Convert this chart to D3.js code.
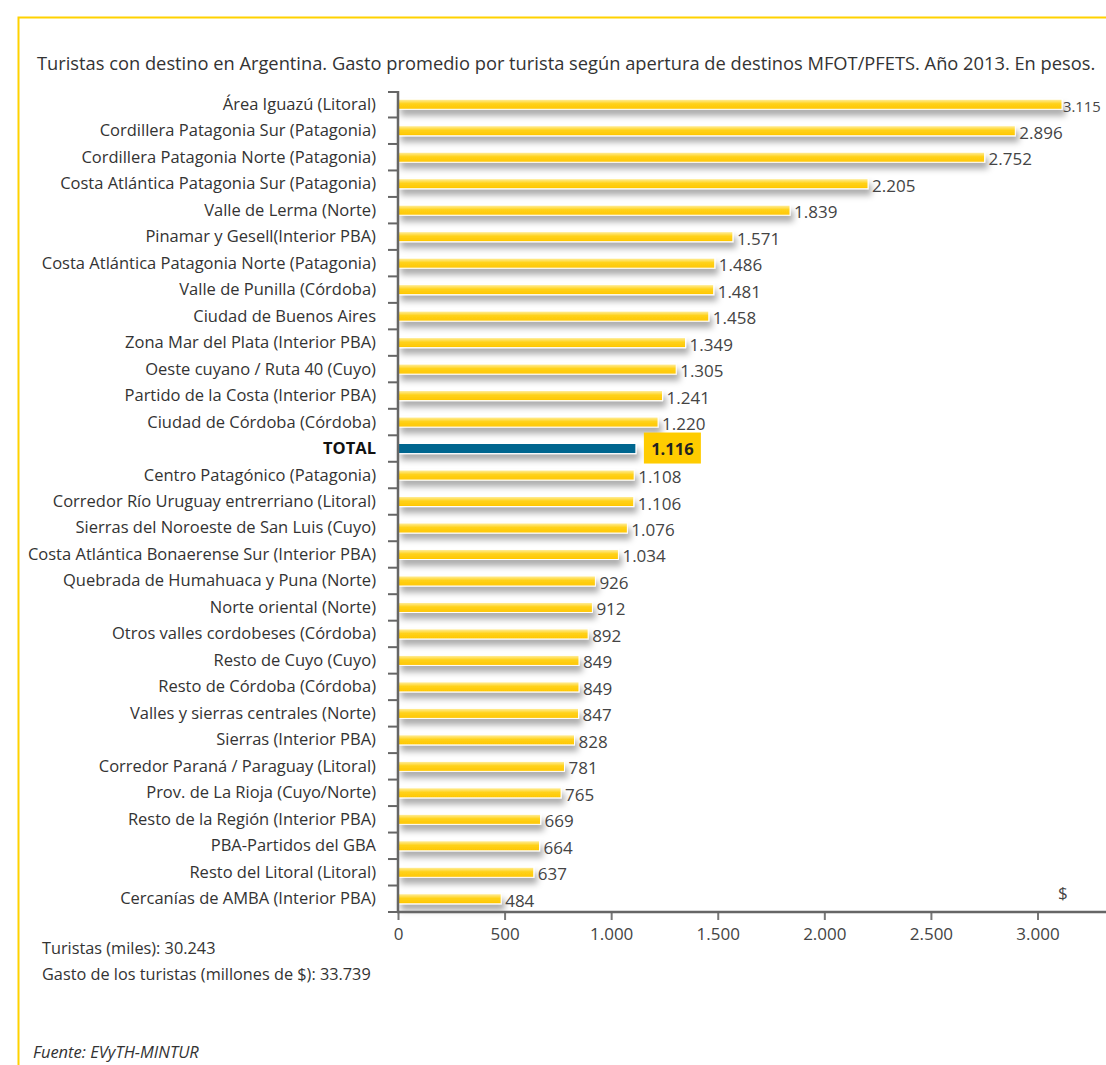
<!DOCTYPE html>
<html><head><meta charset="utf-8">
<script src="https://cdn.jsdelivr.net/npm/d3@7"></script>
<style>
body{margin:0;background:#fff;}
svg{display:block;font-family:"Open Sans",sans-serif;}
</style></head>
<body>
<script>
const categories = ["Área Iguazú (Litoral)","Cordillera Patagonia Sur (Patagonia)","Cordillera Patagonia Norte (Patagonia)","Costa Atlántica Patagonia Sur (Patagonia)","Valle de Lerma (Norte)","Pinamar y Gesell(Interior PBA)","Costa Atlántica Patagonia Norte (Patagonia)","Valle de Punilla (Córdoba)","Ciudad de Buenos Aires","Zona Mar del Plata (Interior PBA)","Oeste cuyano / Ruta 40 (Cuyo)","Partido de la Costa (Interior PBA)","Ciudad de Córdoba (Córdoba)","TOTAL","Centro Patagónico (Patagonia)","Corredor Río Uruguay entrerriano (Litoral)","Sierras del Noroeste de San Luis (Cuyo)","Costa Atlántica Bonaerense Sur (Interior PBA)","Quebrada de Humahuaca y Puna (Norte)","Norte oriental (Norte)","Otros valles cordobeses (Córdoba)","Resto de Cuyo (Cuyo)","Resto de Córdoba (Córdoba)","Valles y sierras centrales (Norte)","Sierras (Interior PBA)","Corredor Paraná / Paraguay (Litoral)","Prov. de La Rioja (Cuyo/Norte)","Resto de la Región (Interior PBA)","PBA-Partidos del GBA","Resto del Litoral (Litoral)","Cercanías de AMBA (Interior PBA)"];
const values = [3115,2896,2752,2205,1839,1571,1486,1481,1458,1349,1305,1241,1220,1116,1108,1106,1076,1034,926,912,892,849,849,847,828,781,765,669,664,637,484];
const tickValues = [0,500,1000,1500,2000,2500,3000];
const tickLabels = ["0","500","1.000","1.500","2.000","2.500","3.000"];
const totalCategory = "TOTAL";
const titleText = "Turistas con destino en Argentina. Gasto promedio por turista según apertura de destinos MFOT/PFETS. Año 2013. En pesos.";
const noteLines = ["Turistas (miles): 30.243","Gasto de los turistas (millones de $): 33.739"];
const sourceText = "Fuente: EVyTH-MINTUR";

const W=1106,H=1065;
const fmt = v => d3.format(",")(v).replace(/,/g,".");
const svg = d3.select("body").append("svg").attr("width",W).attr("height",H);
const defs = svg.append("defs");
const g1 = defs.append("linearGradient").attr("id","yg").attr("x1",0).attr("y1",0).attr("x2",0).attr("y2",1);
g1.append("stop").attr("offset","0%").attr("stop-color","#FFF0A8");
g1.append("stop").attr("offset","45%").attr("stop-color","#FFD21A");
g1.append("stop").attr("offset","100%").attr("stop-color","#FFC600");
const f = defs.append("filter").attr("id","sh").attr("x","-5%").attr("y","-100%").attr("width","115%").attr("height","450%");
f.append("feDropShadow").attr("dx",3).attr("dy",6).attr("stdDeviation",3.2).attr("flood-color","#000").attr("flood-opacity",0.33);

// frame
svg.append("path").attr("d","M18.5,1065 V17.5 H1106").attr("fill","none").attr("stroke","#FFD200").attr("stroke-width",2);

svg.append("text").attr("x",37).attr("y",70).attr("font-size",18.3).attr("fill","#333").text(titleText);

const x = d3.scaleLinear().domain([0,3115]).range([398,1062]);
const y = d3.scaleBand().domain(categories).range([91,912]).paddingInner(0.62).paddingOuter(0.31);

const bars = svg.append("g");
categories.forEach((c,i)=>{
  const isT = c===totalCategory;
  bars.append("rect").attr("x",x(0)).attr("y",y(c)).attr("width",x(values[i])-x(0)).attr("height",y.bandwidth())
    .attr("fill",isT?"#00668F":"url(#yg)").attr("stroke","#fff").attr("stroke-width",1).attr("filter","url(#sh)");
});

// value labels
categories.forEach((c,i)=>{
  const isT = c===totalCategory;
  const cy = y(c)+y.bandwidth()/2;
  if(isT){
    svg.append("rect").attr("x",x(values[i])+8).attr("y",cy-16).attr("width",57).attr("height",31).attr("fill","#FFCC00");
    svg.append("text").attr("x",x(values[i])+36.5).attr("y",cy+6).attr("text-anchor","middle").attr("font-size",16.5).attr("font-weight","bold").attr("fill","#222").text(fmt(values[i]));
  } else {
    const t = svg.append("text").attr("x",x(values[i])+4).attr("y",cy+8).attr("font-size",17).attr("fill","#444").text(fmt(values[i]));
    const bb = t.node().getBBox();
    if(bb.x+bb.width > W-4){
      const avail = W-5-(x(values[i])+1);
      t.attr("x", x(values[i])+1).attr("font-size", Math.floor(17*avail/bb.width*10)/10);
    }
  }
});

// y axis
const ya = svg.append("g");
ya.append("line").attr("x1",398).attr("x2",398).attr("y1",91).attr("y2",913).attr("stroke","#666").attr("stroke-width",2.5);
const bnds = categories.map(c=>y(c)-y.step()*y.paddingInner()/2).concat([912]);
bnds.forEach((b,i)=>{ if(i===0) b=92; ya.append("line").attr("x1",388).attr("x2",398).attr("y1",b).attr("y2",b).attr("stroke","#666").attr("stroke-width",2);});
categories.forEach(c=>{
  const isT = c===totalCategory;
  ya.append("text").attr("x",376).attr("y",y(c)+y.bandwidth()/2+5.5).attr("text-anchor","end")
    .attr("font-size",16.5).attr("fill",isT?"#111":"#333").attr("font-weight",isT?"bold":"normal").text(c);
});

// x axis
const xa = svg.append("g").attr("transform","translate(0,912)")
  .call(d3.axisBottom(x).tickValues(tickValues).tickFormat((d,i)=>tickLabels[i]).tickSizeOuter(0).tickSize(8).tickPadding(8));
xa.select(".domain").remove();
xa.append("line").attr("x1",397).attr("x2",1106).attr("y1",0).attr("y2",0).attr("stroke","#666").attr("stroke-width",2.5);
xa.selectAll(".tick line").attr("stroke","#777").attr("stroke-width",2).attr("y1",-1);
xa.selectAll(".tick text").attr("font-size",17).attr("fill","#444").attr("font-family","'Open Sans',sans-serif");
svg.append("text").attr("x",1058).attr("y",899).attr("font-size",17).attr("fill","#444").text("$");

noteLines.forEach((t,i)=>svg.append("text").attr("x",42).attr("y",954+i*26).attr("font-size",16.3).attr("fill","#333").text(t));
svg.append("text").attr("x",33).attr("y",1058).attr("font-size",16.5).attr("font-style","italic").attr("fill","#333").text(sourceText);
</script>
</body></html>
